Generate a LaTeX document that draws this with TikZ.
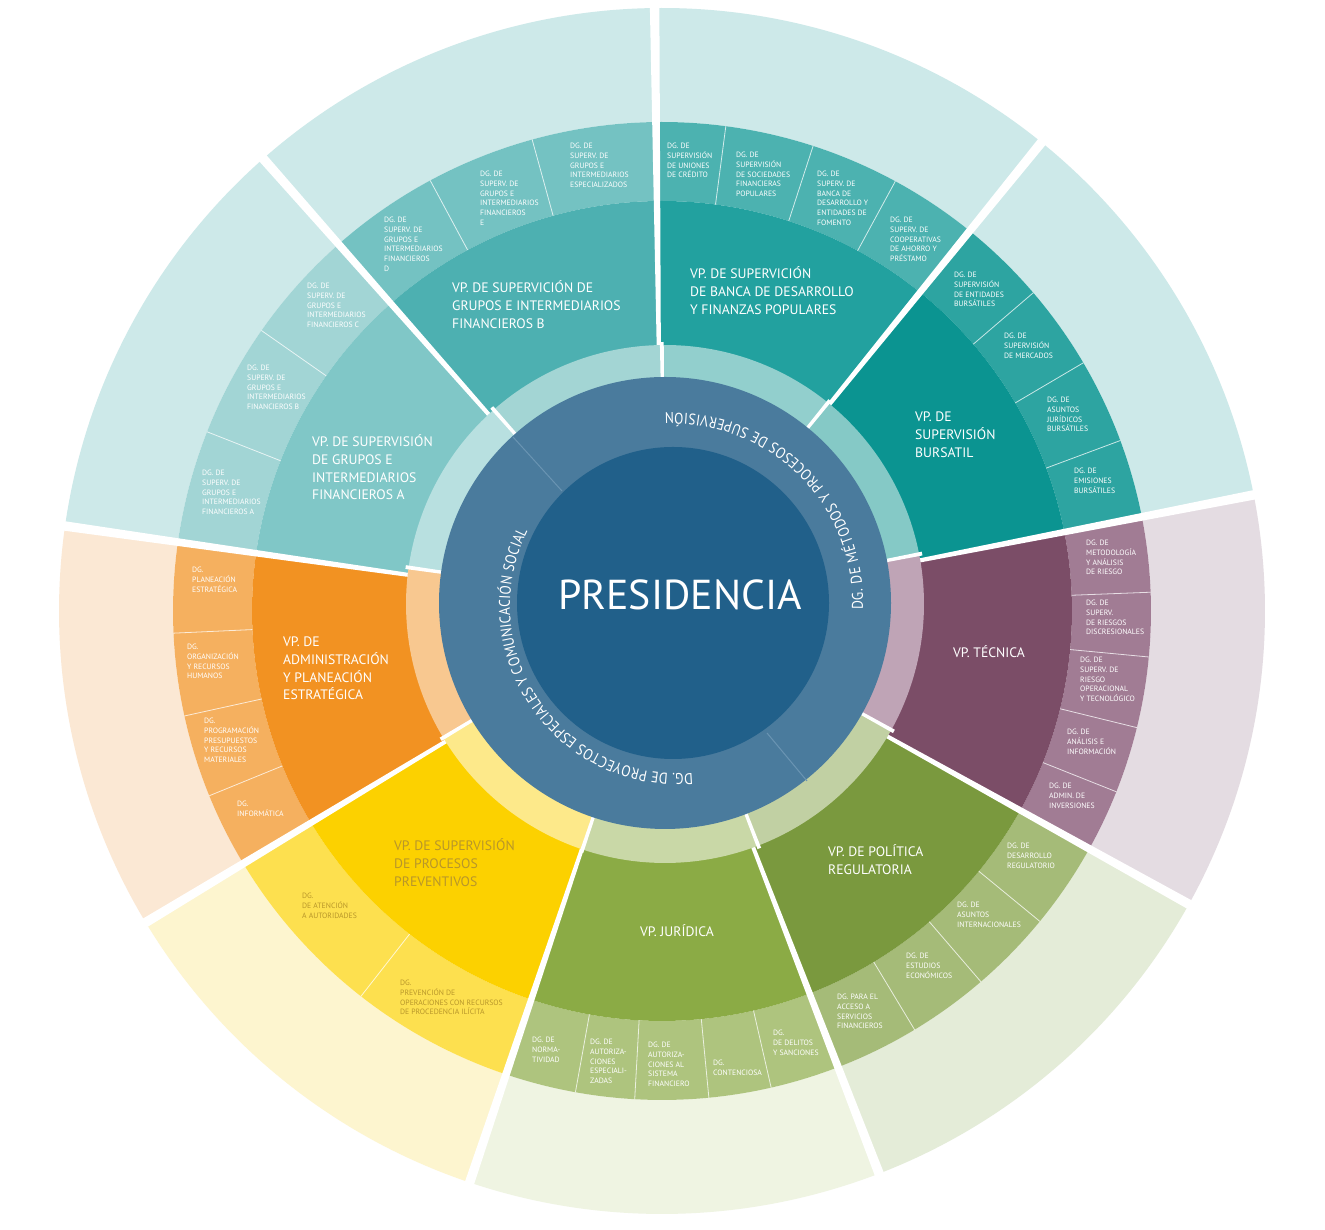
\documentclass[tikz,border=0pt]{standalone}
\usepackage{fontspec}
\setmainfont{PT Sans}
\newfontfamily\ringfont[FakeStretch=0.87]{PT Sans}
\usetikzlibrary{decorations.text}
\definecolor{presC}{HTML}{21608A}
\definecolor{ringC}{HTML}{4A7B9D}
\definecolor{ringL}{HTML}{6A94B2}
\definecolor{aO}{HTML}{CDE9E9}\definecolor{aD}{HTML}{A2D5D5}\definecolor{aV}{HTML}{80C7C7}\definecolor{aB}{HTML}{B8E0E0}
\definecolor{bO}{HTML}{CDE9E9}\definecolor{bD}{HTML}{74C2C2}\definecolor{bV}{HTML}{4DB0B1}\definecolor{bB}{HTML}{A3D5D4}
\definecolor{cO}{HTML}{CDE9E9}\definecolor{cD}{HTML}{4CB2B0}\definecolor{cV}{HTML}{22A19F}\definecolor{cB}{HTML}{92CFCD}
\definecolor{dO}{HTML}{CDE9E9}\definecolor{dD}{HTML}{2DA4A1}\definecolor{dV}{HTML}{0B9491}\definecolor{dB}{HTML}{85C9C6}
\definecolor{eO}{HTML}{E4DCE2}\definecolor{eD}{HTML}{A17C94}\definecolor{eV}{HTML}{7B4D67}\definecolor{eB}{HTML}{BFA4B6}
\definecolor{fO}{HTML}{E4ECD8}\definecolor{fD}{HTML}{A5BB78}\definecolor{fV}{HTML}{7A993E}\definecolor{fB}{HTML}{C1D0A3}
\definecolor{gO}{HTML}{EFF4E2}\definecolor{gD}{HTML}{AEC47E}\definecolor{gV}{HTML}{8BAB45}\definecolor{gB}{HTML}{C9D8A7}
\definecolor{hO}{HTML}{FDF5CF}\definecolor{hD}{HTML}{FDE04F}\definecolor{hV}{HTML}{FCD100}\definecolor{hB}{HTML}{FDE98A}
\definecolor{iO}{HTML}{FBE8D4}\definecolor{iD}{HTML}{F5B05F}\definecolor{iV}{HTML}{F29222}\definecolor{iB}{HTML}{F8C890}
\definecolor{goldT}{HTML}{B8962A}
\newcommand\annul[5]{\fill[#5] (#1:#3pt) arc[start angle=#1,end angle=#2,radius=#3pt] -- (#2:#4pt) arc[start angle=#2,end angle=#1,radius=#4pt] -- cycle;}
\newcommand\petal[5]{\annul{#1}{#2}{489}{603}{#3}\annul{#1}{#2}{410}{489}{#4}\annul{#1}{#2}{200}{410}{#5}}
\newcommand\gapw[4]{\fill[white] ({#1-#4}:#2pt) -- ({#1-#4}:#3pt) -- ({#1+#4}:#3pt) -- ({#1+#4}:#2pt) -- cycle;}
\begin{document}
\begin{tikzpicture}[x=1pt,y=1pt,
  divline/.style={white, line width=0.8pt, opacity=0.75},
  vplab/.style={anchor=north west, inner sep=0pt, align=left, text=white, font=\fontsize{13.7}{17.6}\selectfont, yshift=2.7pt},
  dglab/.style={anchor=north west, inner sep=0pt, align=left, text=white, font=\fontsize{7.7}{9.8}\selectfont, yshift=1.5pt},
  ringtext/.style={decorate, decoration={text along path, text align={fit to path}}}
]
\fill[white] (0,0) rectangle (1325,1230);
\useasboundingbox (0,0) rectangle (1325,1230);
% outer structure
\begin{scope}[shift={(662pt,619pt)}]
  \petal{-29.1}{11.1}{eO}{eD}{eV}
  \petal{11.1}{51.0}{dO}{dD}{dV}
  \petal{51.0}{90.7}{cO}{cD}{cV}
  \petal{90.7}{131.4}{bO}{bD}{bV}
  \petal{131.4}{171.9}{aO}{aD}{aV}
  \petal{171.9}{211.1}{iO}{iD}{iV}
  \petal{211.1}{251.4}{hO}{hD}{hV}
  \petal{251.4}{291.1}{gO}{gD}{gV}
  \petal{291.1}{330.9}{fO}{fD}{fV}
  \foreach \a in {2.2,-5.4,-13.8,-21.7,20.4,30.5,40.6,61.5,72,82.5,105.4,118.3,145,158.5,182.6,192.4,202.2,232,259.8,266.8,275.5,282.9,301.1,310.7,320.6}
    \draw[divline] (\a:410pt) -- (\a:489pt);
  \foreach \g in {-29.1,11.1,51.0,90.7,131.4,171.9,211.1,251.4,291.1} {\gapw{\g}{250}{625}{0.45}}
\end{scope}
% light band
\begin{scope}[shift={(665pt,626pt)}]
  \annul{-29.1}{11.1}{180}{259}{eB}
  \annul{11.1}{51.0}{180}{259}{dB}
  \annul{51.0}{90.7}{180}{259}{cB}
  \annul{90.7}{131.4}{180}{259}{bB}
  \annul{131.4}{171.9}{180}{259}{aB}
  \annul{171.9}{211.1}{180}{259}{iB}
  \annul{211.1}{251.4}{180}{259}{hB}
  \annul{251.4}{291.1}{180}{259}{gB}
  \annul{291.1}{330.9}{180}{259}{fB}
  \foreach \g in {-29.1,11.1,51.0,90.7,131.4,171.9,211.1,251.4,291.1} {\gapw{\g}{180}{262}{0.42}}
\end{scope}
% blue ring and centre
\fill[ringC] (665,627) circle[radius=226pt];
\coordinate (r1a) at (513,793); \coordinate (r1b) at (562,739);
\coordinate (r2a) at (767,497); \coordinate (r2b) at (807,449);
\draw[ringL, line width=1pt] (r1a) -- (r1b);
\draw[ringL, line width=1pt] (r2a) -- (r2b);
\fill[presC] (673,627) circle[radius=156pt];
% ring texts
\path[ringtext, decoration={text={|\ringfont\fontsize{15.5}{17}\selectfont\color{white}|DG. DE MÉTODOS Y PROCESOS DE SUPERVISIÓN}}]
  ([shift={(-2:190pt)}]673,627) arc[start angle=-2, end angle=92.5, radius=190pt];
\path[ringtext, decoration={text={|\ringfont\fontsize{15.5}{17}\selectfont\color{white}|DG. DE PROYECTOS ESPECIALES Y COMUNICACIÓN SOCIAL}}]
  ([shift={(-85:168pt)}]678,624) arc[start angle=-85, end angle=-206.5, radius=168pt];
% labels (pixel coordinates, y downward)
\begin{scope}[y=-1pt, shift={(0pt,1230pt)}]
\node[anchor=base, inner sep=0pt, text=white, font=\fontsize{41.8}{45}\selectfont] (pres) at (680,610) {PRESIDENCIA};
% VP labels
\node[vplab] (vpA) at (312,437) {\strut VP. DE SUPERVISIÓN\\DE GRUPOS E\\INTERMEDIARIOS\\FINANCIEROS A};
\node[vplab] (vpB) at (452,283) {\strut VP. DE SUPERVICIÓN DE\\GRUPOS E INTERMEDIARIOS\\FINANCIEROS B};
\node[vplab] (vpC) at (690,269) {\strut VP. DE SUPERVICIÓN\\DE BANCA DE DESARROLLO\\Y FINANZAS POPULARES};
\node[vplab] (vpD) at (915,412) {\strut VP. DE\\SUPERVISIÓN\\BURSATIL};
\node[vplab] (vpE) at (953,648) {\strut VP. TÉCNICA};
\node[vplab] (vpF) at (828,847) {\strut VP. DE POLÍTICA\\REGULATORIA};
\node[vplab] (vpG) at (640,927) {\strut VP. JURÍDICA};
\node[vplab, text=goldT] (vpH) at (394,841) {\strut VP. DE SUPERVISIÓN\\DE PROCESOS\\PREVENTIVOS};
\node[vplab] (vpI) at (283,637) {\strut VP. DE\\ADMINISTRACIÓN\\Y PLANEACIÓN\\ESTRATÉGICA};
% DG labels - Grupos B
\node[dglab] (b1) at (384,217) {\strut DG. DE\\SUPERV. DE\\GRUPOS E\\INTERMEDIARIOS\\FINANCIEROS\\D};
\node[dglab] (b2) at (480,171) {\strut DG. DE\\SUPERV. DE\\GRUPOS E\\INTERMEDIARIOS\\FINANCIEROS\\E};
\node[dglab] (b3) at (570,143) {\strut DG. DE\\SUPERV. DE\\GRUPOS E\\INTERMEDIARIOS\\ESPECIALIZADOS};
% Banca
\node[dglab] (c1) at (667,143) {\strut DG. DE\\SUPERVISIÓN\\DE UNIONES\\DE CRÉDITO};
\node[dglab] (c2) at (736,152) {\strut DG. DE\\SUPERVISIÓN\\DE SOCIEDADES\\FINANCIERAS\\POPULARES};
\node[dglab] (c3) at (817,171) {\strut DG. DE\\SUPERV. DE\\BANCA DE\\DESARROLLO Y\\ENTIDADES DE\\FOMENTO};
\node[dglab] (c4) at (890,217) {\strut DG. DE\\SUPERV. DE\\COOPERATIVAS\\DE AHORRO Y\\PRÉSTAMO};
% Bursatil
\node[dglab] (d1) at (954,272) {\strut DG. DE\\SUPERVISIÓN\\DE ENTIDADES\\BURSÁTILES};
\node[dglab] (d2) at (1004,333) {\strut DG. DE\\SUPERVISIÓN\\DE MERCADOS};
\node[dglab] (d3) at (1047,397) {\strut DG. DE\\ASUNTOS\\JURÍDICOS\\BURSÁTILES};
\node[dglab] (d4) at (1074,468) {\strut DG. DE\\EMISIONES\\BURSÁTILES};
% Tecnica
\node[dglab] (e1) at (1086,540) {\strut DG. DE\\METODOLOGÍA\\Y ANÁLISIS\\DE RIESGO};
\node[dglab] (e2) at (1086,600) {\strut DG. DE\\SUPERV.\\DE RIESGOS\\DISCRESIONALES};
\node[dglab] (e3) at (1080,657) {\strut DG. DE\\SUPERV. DE\\RIESGO\\OPERACIONAL\\Y TECNOLÓGICO};
\node[dglab] (e4) at (1067,729) {\strut DG. DE\\ANÁLISIS E\\INFORMACIÓN};
\node[dglab] (e5) at (1049,783) {\strut DG. DE\\ADMIN. DE\\INVERSIONES};
% Politica
\node[dglab] (f1) at (1007,843) {\strut DG. DE\\DESARROLLO\\REGULATORIO};
\node[dglab] (f2) at (957,902) {\strut DG. DE\\ASUNTOS\\INTERNACIONALES};
\node[dglab] (f3) at (906,953) {\strut DG. DE\\ESTUDIOS\\ECONÓMICOS};
\node[dglab] (f4) at (837,994) {\strut DG. PARA EL\\ACCESO A\\SERVICIOS\\FINANCIEROS};
% Juridica
\node[dglab] (g1) at (532,1037) {\strut DG. DE\\NORMA-\\TIVIDAD};
\node[dglab] (g2) at (590,1039) {\strut DG. DE\\AUTORIZA-\\CIONES\\ESPECIALI-\\ZADAS};
\node[dglab] (g3) at (648,1042) {\strut DG. DE\\AUTORIZA-\\CIONES AL\\SISTEMA\\FINANCIERO};
\node[dglab] (g4) at (713,1060) {\strut DG.\\CONTENCIOSA};
\node[dglab] (g5) at (773,1030) {\strut DG.\\DE DELITOS\\Y SANCIONES};
% Preventivos
\node[dglab, text=goldT] (h1) at (302,893) {\strut DG.\\DE ATENCIÓN\\A AUTORIDADES};
\node[dglab, text=goldT] (h2) at (400,980) {\strut DG.\\PREVENCIÓN DE\\OPERACIONES CON RECURSOS\\DE PROCEDENCIA ILÍCITA};
% Administracion
\node[dglab] (i1) at (192,567) {\strut DG.\\PLANEACIÓN\\ESTRATÉGICA};
\node[dglab] (i2) at (187,644) {\strut DG.\\ORGANIZACIÓN\\Y RECURSOS\\HUMANOS};
\node[dglab] (i3) at (204,718) {\strut DG.\\PROGRAMACIÓN\\PRESUPUESTOS\\Y RECURSOS\\MATERIALES};
\node[dglab] (i4) at (237,801) {\strut DG.\\INFORMÁTICA};
% Grupos A
\node[dglab] (a1) at (307,283) {\strut DG. DE\\SUPERV. DE\\GRUPOS E\\INTERMEDIARIOS\\FINANCIEROS C};
\node[dglab] (a2) at (247,365) {\strut DG. DE\\SUPERV. DE\\GRUPOS E\\INTERMEDIARIOS\\FINANCIEROS B};
\node[dglab] (a3) at (202,470) {\strut DG. DE\\SUPERV. DE\\GRUPOS E\\INTERMEDIARIOS\\FINANCIEROS A};
\end{scope}
\end{tikzpicture}
\end{document}
